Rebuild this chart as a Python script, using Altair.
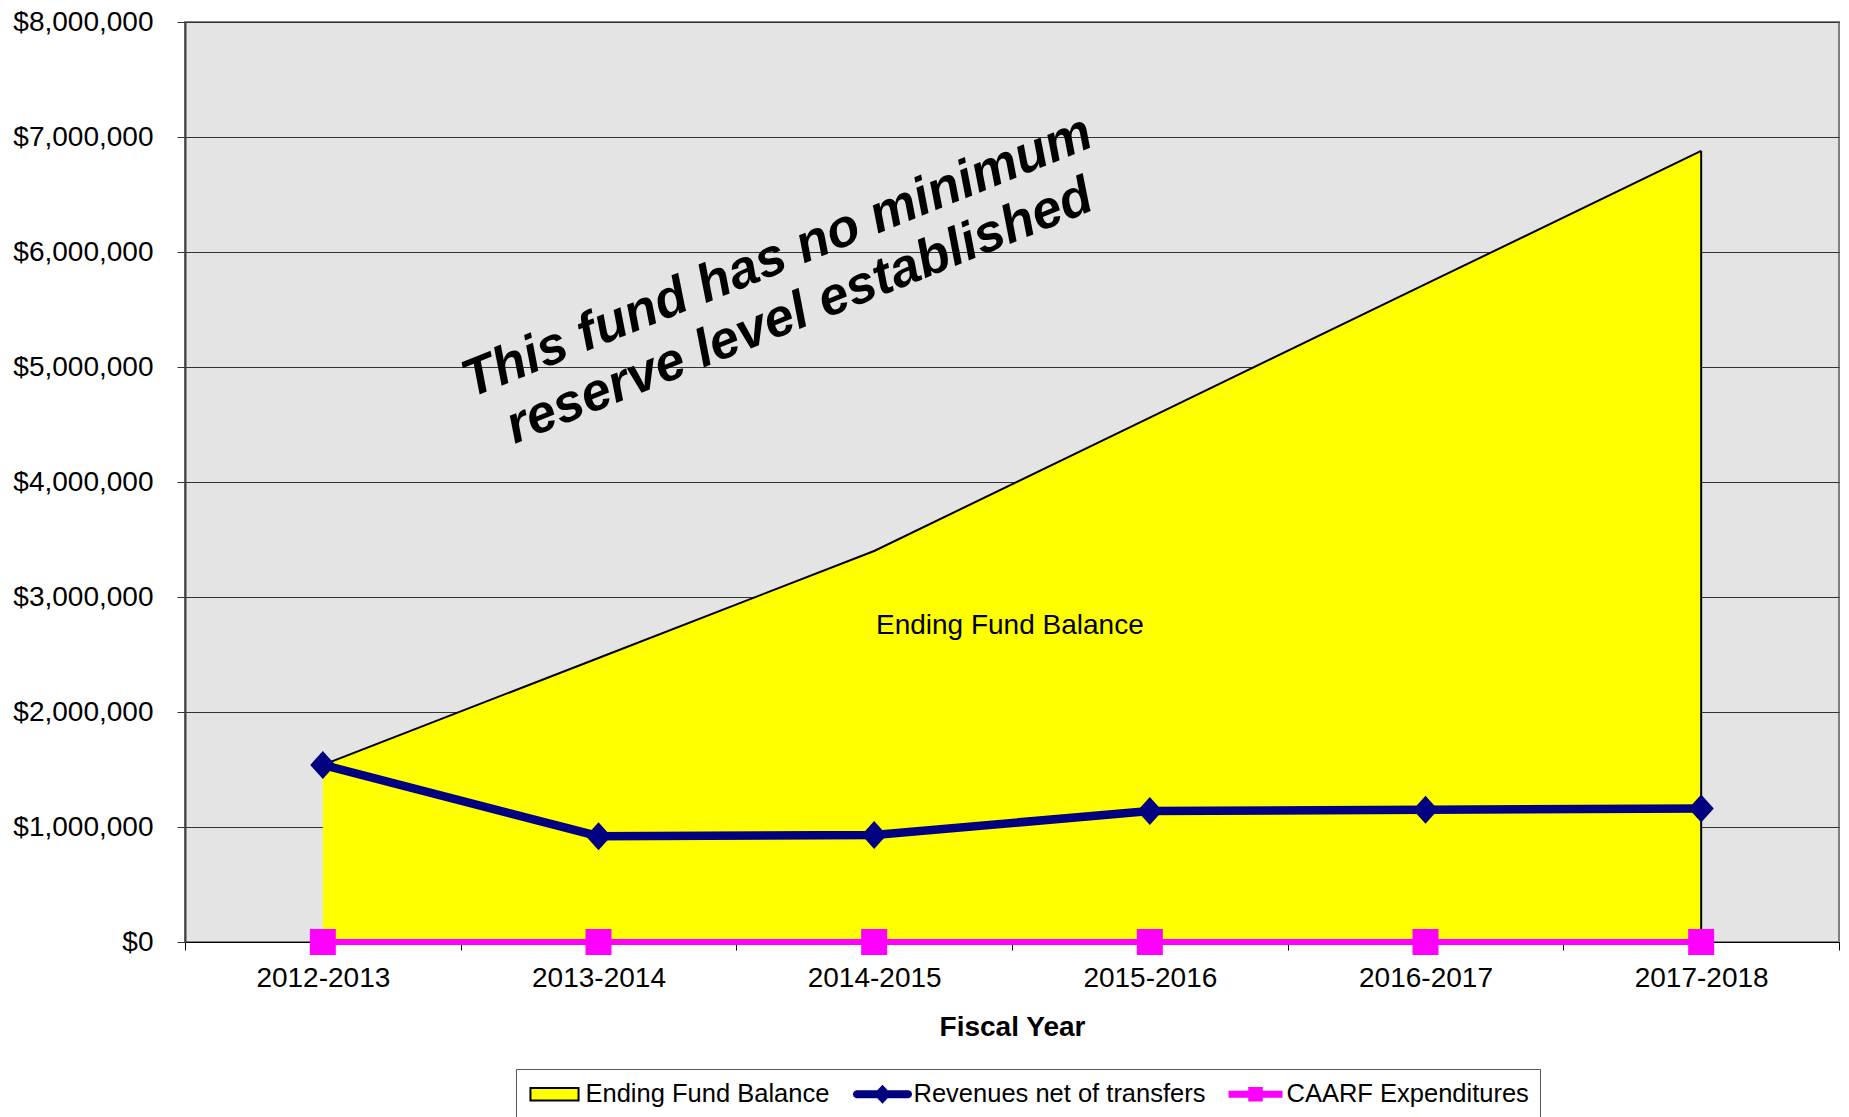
import altair as alt
import pandas as pd

# ---------------- data ----------------
years = ["2012-2013", "2013-2014", "2014-2015", "2015-2016", "2016-2017", "2017-2018"]
ending_fund_balance = [1540000, 2470000, 3400000, 4560000, 5720000, 6880000]
revenues_net_of_transfers = [1540000, 920000, 930000, 1140000, 1150000, 1160000]
caarf_expenditures = [0, 0, 0, 0, 0, 0]
series_names = ["Ending Fund Balance", "Revenues net of transfers", "CAARF Expenditures"]
y_ticks = [0, 1000000, 2000000, 3000000, 4000000, 5000000, 6000000, 7000000, 8000000]

annotation_lines = ["This fund has no minimum", "reserve level established"]
annotation_year = ["2014-2015"]
annotation_value = [5960000]
area_label_text = "Ending Fund Balance"
area_label_year = ["2015-2016"]
area_label_value = [2750000]

# ---------------- styles ----------------
FONT = "Liberation Sans"
YELLOW = "#FFFF00"
NAVY = "#000080"
MAGENTA = "#FF00FF"

DIAMOND = "M0,-1L0.9,0L0,1L-0.9,0Z"
LEG_RECT = "M-1.85,-0.48L1.85,-0.48L1.85,0.48L-1.85,0.48Z"
LEG_DIAMOND_LINE = ("M-2.0,-0.23L-0.36,-0.23L0,-0.62L0.36,-0.23L2.0,-0.23L2.14,-0.16L2.2,0"
                    "L2.14,0.16L2.0,0.23L0.36,0.23L0,0.62L-0.36,0.23L-2.0,0.23L-2.14,0.16"
                    "L-2.2,0L-2.14,-0.16Z")
LEG_SQUARE_LINE = ("M-2.0,-0.2L-0.48,-0.2L-0.48,-0.48L0.48,-0.48L0.48,-0.2L2.0,-0.2"
                   "L2.0,0.2L0.48,0.2L0.48,0.48L-0.48,0.48L-0.48,0.2L-2.0,0.2Z")

df = pd.DataFrame({
    "year": years * 3,
    "series": [series_names[0]] * 6 + [series_names[1]] * 6 + [series_names[2]] * 6,
    "value": ending_fund_balance + revenues_net_of_transfers + caarf_expenditures,
})
bal = df[df["series"] == series_names[0]]
rev = df[df["series"] == series_names[1]]
caarf = df[df["series"] == series_names[2]]
bal_last = bal.tail(1)

x_scale = alt.Scale(type="band", domain=years, paddingInner=0, paddingOuter=0)
y_scale = alt.Scale(domain=[0, 8000000], nice=False)

x_axis = alt.Axis(
    title="Fiscal Year", tickBand="extent", labelAngle=0, grid=False,
    labelFont=FONT, labelFontSize=28, labelColor="black", labelPadding=14,
    tickSize=8, tickColor="black", domainColor="black", domainWidth=1,
    titleFont=FONT, titleFontSize=28, titleFontWeight="bold", titleColor="black",
    titlePadding=21,
)
y_axis = alt.Axis(
    values=y_ticks, format="$,.0f", title=None, grid=True,
    gridColor="#333333", gridWidth=1, tickSize=8, tickColor="#333333",
    domainColor="#404040", domainWidth=2,
    labelFont=FONT, labelFontSize=28, labelColor="black", labelPadding=24,
)


def X(axis=None):
    if axis is None:
        return alt.X("year:N", scale=x_scale, bandPosition=0.5)
    return alt.X("year:N", scale=x_scale, bandPosition=0.5, axis=axis)


def Y(axis=None):
    if axis is None:
        return alt.Y("value:Q", scale=y_scale)
    return alt.Y("value:Q", scale=y_scale, axis=axis)


area = alt.Chart(bal).mark_area(color=YELLOW, opacity=1).encode(x=X(x_axis), y=Y(y_axis))
area_edge = alt.Chart(bal).mark_line(color="black", strokeWidth=2).encode(x=X(), y=Y())
area_right = alt.Chart(bal_last).mark_rule(color="black", strokeWidth=2).encode(
    x=X(), y=Y(), y2=alt.datum(0))

rev_line = alt.Chart(rev).mark_line(color=NAVY, strokeWidth=8.5).encode(x=X(), y=Y())
rev_pts = alt.Chart(rev).mark_point(
    filled=True, color=NAVY, shape=DIAMOND, size=784, opacity=1, strokeWidth=0
).encode(x=X(), y=Y())

caarf_line = alt.Chart(caarf).mark_line(color=MAGENTA, strokeWidth=6).encode(x=X(), y=Y())
caarf_pts = alt.Chart(caarf).mark_point(
    filled=True, color=MAGENTA, shape="square", size=676, opacity=1, strokeWidth=0
).encode(x=X(), y=Y())

legend_def = alt.Legend(
    title=None, orient="none", legendX=331, legendY=1047, direction="horizontal",
    padding=11, strokeColor="#555555", fillColor="white",
    labelFont=FONT, labelFontSize=25.5, labelColor="black", labelLimit=500,
    labelOffset=17, symbolOffset=13.5, columnPadding=19, symbolSize=676,
    symbolStrokeWidth=2, symbolOpacity=1,
)

legend_layer = alt.Chart(df).mark_point(filled=True, strokeWidth=2).encode(
    x=X(), y=Y(),
    fill=alt.Fill("series:N", scale=alt.Scale(domain=series_names, range=[YELLOW, NAVY, MAGENTA]),
                  legend=legend_def),
    stroke=alt.Stroke("series:N", scale=alt.Scale(domain=series_names, range=["black", NAVY, MAGENTA]),
                      legend=legend_def),
    shape=alt.Shape("series:N", scale=alt.Scale(domain=series_names,
                                                 range=[LEG_RECT, LEG_DIAMOND_LINE, LEG_SQUARE_LINE]),
                    legend=legend_def),
).transform_filter("datum.value < 0")

ann_df = pd.DataFrame({"year": annotation_year, "value": annotation_value})
annotation = alt.Chart(ann_df).mark_text(
    text=annotation_lines, angle=338, font=FONT, fontSize=53, fontWeight="bold",
    fontStyle="italic", align="center", baseline="middle", lineHeight=59,
    dx=-90, dy=-36, color="black",
).encode(x=X(), y=Y())

lab_df = pd.DataFrame({"year": area_label_year, "value": area_label_value})
area_label = alt.Chart(lab_df).mark_text(
    text=area_label_text, font=FONT, fontSize=28, align="center", baseline="middle",
    dx=-140, color="black",
).encode(x=X(), y=Y())

chart = alt.layer(
    area, area_edge, area_right, rev_line, rev_pts, caarf_line, caarf_pts,
    annotation, area_label, legend_layer,
).properties(
    width=1654, height=920,
    autosize=alt.AutoSizeParams(type="none"),
    padding={"left": 177, "top": 14, "right": 2, "bottom": 176},
).configure(
    background="white",
).configure_view(
    fill="#e4e4e4", stroke="#808080", strokeWidth=2,
)

chart.save("out.html", embed_options={"renderer": "svg", "actions": False})
